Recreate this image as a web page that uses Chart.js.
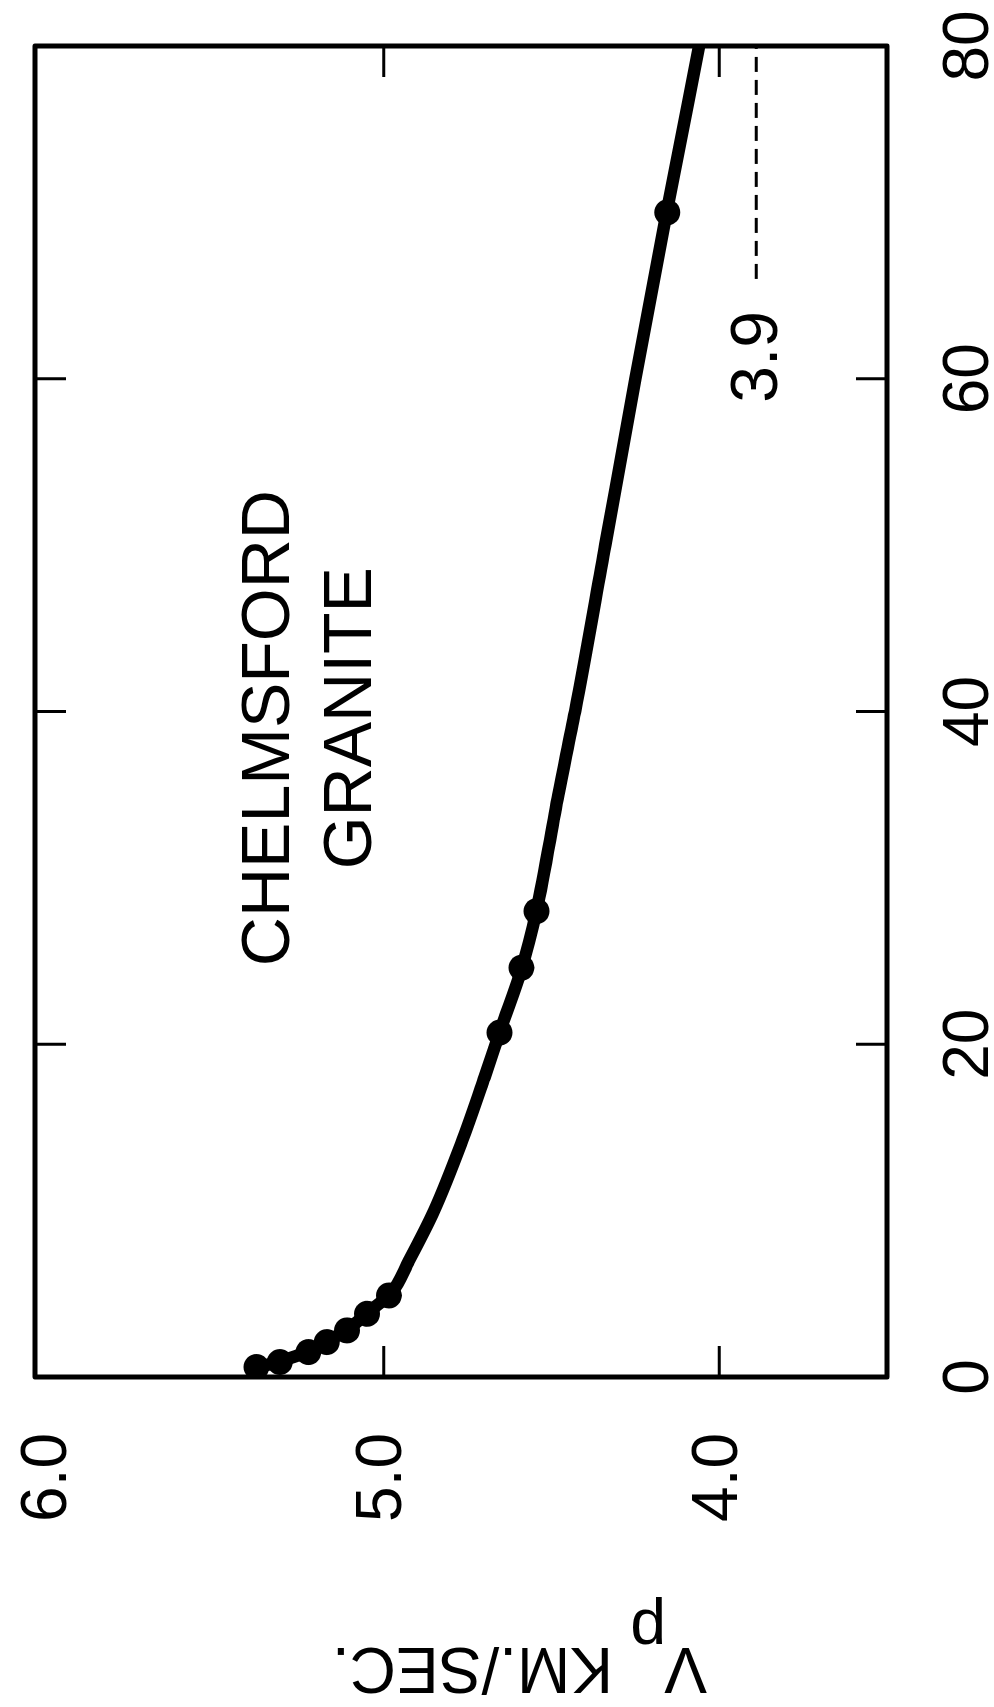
<!DOCTYPE html>
<html>
<head>
<meta charset="utf-8">
<title>Chelmsford granite</title>
<script src="https://cdn.jsdelivr.net/npm/chart.js@4.4.1/dist/chart.umd.min.js"></script>
<style>
  html, body { margin: 0; padding: 0; background: #fff; overflow: hidden; }
  #page { position: relative; width: 994px; height: 1707px; overflow: hidden; background: #fff; }
  /* the figure is printed turned on its side, so the canvas is drawn wide and rotated */
  #chart { position: absolute; left: 0; top: 0; transform-origin: 0 0; transform: translateY(1707px) rotate(-90deg); }
</style>
</head>
<body>
<div id="page"><canvas id="chart" width="1707" height="994"></canvas></div>
<script>
// pressure (horizontal axis of the unrotated plot) and Vp in km/sec
const pressureTicks = [0, 20, 40, 60, 80];
const vpTicks = [4.0, 5.0, 6.0];
const innerPressureTicks = [20, 40, 60];
const innerVpTicks = [4.0, 5.0];

const measuredPressure = [0.6, 0.9, 1.5, 2.1, 2.8, 3.8, 4.9, 20.7, 24.6, 28.0, 70.0];
const measuredVp = [5.38, 5.31, 5.225, 5.17, 5.11, 5.05, 4.985, 4.655, 4.59, 4.545, 4.155];

const curvePressure = [0.5, 1, 1.5, 2, 3, 4, 5, 7, 10, 14, 18, 21, 24.5, 28, 35, 40, 50, 60, 70, 80];
const curveVp = [5.39, 5.30, 5.23, 5.18, 5.10, 5.04, 4.98, 4.925, 4.85, 4.77, 4.70, 4.65, 4.59, 4.545, 4.48, 4.43, 4.34, 4.25, 4.157, 4.06];

const asymptotePressure = [66, 80];
const asymptoteVp = 3.89;
const asymptoteLabel = "3.9";

const sampleLines = [
  { text: "CHELMSFORD", p: 39.0, vp: 5.283 },
  { text: "GRANITE", p: 39.6, vp: 5.038 }
];

const ink = "#000";
const family = "'Liberation Sans', Arial, sans-serif";

const toPoints = (xs, ys) => xs.map((x, i) => ({ x, y: Array.isArray(ys) ? ys[i] : ys }));

// keep the plot box where the figure has it, whatever the label overhang
const noOverhang = s => { s.paddingTop = 0; s.paddingBottom = 0; s.paddingLeft = 0; s.paddingRight = 0; };

const framePlugin = {
  id: "frame",
  afterDatasetsDraw(chart) {
    const { ctx, chartArea: a, scales: { x, y } } = chart;
    ctx.save();
    ctx.strokeStyle = ink;
    ctx.fillStyle = ink;

    // inner ticks on all four sides
    ctx.lineWidth = 3;
    ctx.beginPath();
    innerPressureTicks.forEach(p => {
      const px = x.getPixelForValue(p);
      ctx.moveTo(px, a.bottom); ctx.lineTo(px, a.bottom - 31);
      ctx.moveTo(px, a.top); ctx.lineTo(px, a.top + 31);
    });
    innerVpTicks.forEach(v => {
      const py = y.getPixelForValue(v);
      ctx.moveTo(a.left, py); ctx.lineTo(a.left + 31, py);
      ctx.moveTo(a.right, py); ctx.lineTo(a.right - 31, py);
    });
    ctx.stroke();

    ctx.lineWidth = 5;
    ctx.lineJoin = "round";
    ctx.strokeRect(a.left, a.top, a.right - a.left, a.bottom - a.top);

    // sample name
    ctx.font = "68px " + family;
    ctx.textAlign = "center";
    ctx.textBaseline = "alphabetic";
    sampleLines.forEach(l => ctx.fillText(l.text, x.getPixelForValue(l.p), y.getPixelForValue(l.vp)));

    // label of the dashed limit
    ctx.font = "66px " + family;
    ctx.textAlign = "right";
    ctx.textBaseline = "middle";
    ctx.fillText(asymptoteLabel, x.getPixelForValue(asymptotePressure[0]) - 32, y.getPixelForValue(asymptoteVp) + 3);

    // axis title, V with a dropped p
    ctx.translate(a.left - 271, a.top + 672);
    ctx.rotate(-Math.PI / 2);
    ctx.font = "64px " + family;
    ctx.textAlign = "left";
    ctx.textBaseline = "alphabetic";
    ctx.fillText("V", 0, 0);
    ctx.fillText("p", 41, 38);
    ctx.fillText("KM./SEC.", 94, 0);
    ctx.restore();
  }
};

new Chart(document.getElementById("chart"), {
  type: "scatter",
  data: {
    datasets: [
      {
        type: "line",
        data: toPoints(curvePressure, curveVp),
        borderColor: ink,
        borderWidth: 12.5,
        pointRadius: 0,
        cubicInterpolationMode: "monotone",
        fill: false,
        clip: 0
      },
      {
        data: toPoints(measuredPressure, measuredVp),
        backgroundColor: ink,
        borderWidth: 0,
        pointRadius: 13,
        clip: 0
      },
      {
        type: "line",
        data: toPoints(asymptotePressure, asymptoteVp),
        borderColor: ink,
        borderWidth: 3,
        borderDash: [15, 8],
        pointRadius: 0,
        fill: false,
        clip: 0
      }
    ]
  },
  options: {
    responsive: false,
    animation: false,
    events: [],
    devicePixelRatio: 1,
    layout: { padding: { top: 35, right: 46, bottom: 0, left: 0 } },
    plugins: { legend: { display: false }, tooltip: { enabled: false } },
    scales: {
      x: {
        type: "linear",
        min: 0,
        max: 80,
        grid: { display: false },
        border: { display: false },
        afterBuildTicks: s => { s.ticks = pressureTicks.map(v => ({ value: v })); },
        afterFit: s => { s.height = 107; noOverhang(s); },
        ticks: {
          color: ink,
          padding: 43,
          maxRotation: 0,
          minRotation: 0,
          autoSkip: false,
          font: { family, size: 64, lineHeight: 1 }
        }
      },
      y: {
        type: "linear",
        min: 3.5,
        max: 6.04,
        grid: { display: false },
        border: { display: false },
        afterBuildTicks: s => { s.ticks = vpTicks.map(v => ({ value: v })); },
        afterFit: s => { s.width = 330; noOverhang(s); },
        ticks: {
          color: ink,
          padding: 48,
          callback: v => Number(v).toFixed(1),
          font: { family, size: 64, lineHeight: 1 }
        }
      }
    }
  },
  plugins: [framePlugin]
});
</script>
</body>
</html>
